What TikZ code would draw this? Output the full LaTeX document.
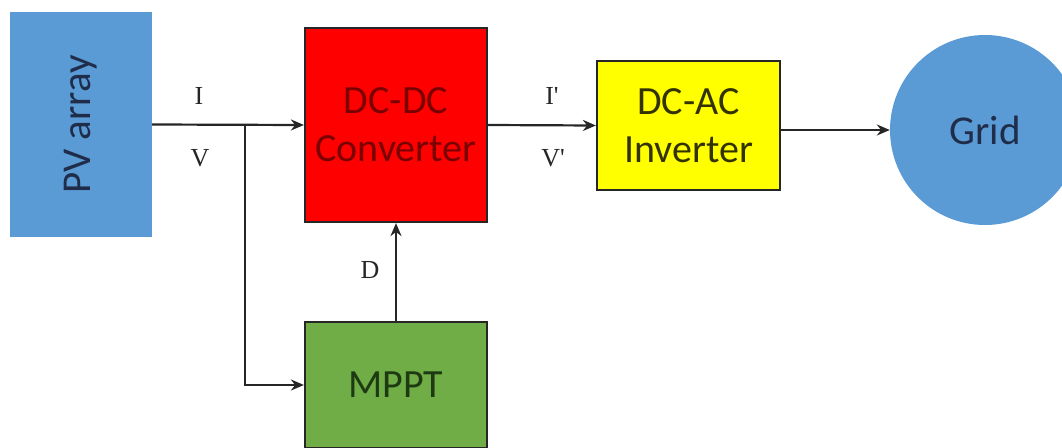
\documentclass[tikz,border=0pt]{standalone}
\usepackage{fontspec}
\setmainfont{Carlito}
\newfontfamily\lblfont{Liberation Serif}
\usetikzlibrary{arrows.meta}
\definecolor{pvblue}{HTML}{5B9BD5}
\definecolor{pvtext}{HTML}{1F2D4A}
\definecolor{dcred}{HTML}{FF0000}
\definecolor{dctext}{HTML}{7A0000}
\definecolor{invyellow}{HTML}{FFFF00}
\definecolor{invtext}{HTML}{333300}
\definecolor{mpgreen}{HTML}{70AD47}
\definecolor{mptext}{HTML}{1E3A12}
\tikzset{
  blk/.style={rectangle, inner sep=0pt, align=center, font=\fontsize{40}{48}\selectfont},
  bordered/.style={blk, draw=black!85, line width=2.2pt},
  conn/.style={line width=2.2pt, black!85, -{Stealth[length=13pt,width=11pt]}},
  lbl/.style={font=\lblfont\fontsize{26}{30}\selectfont, text=black!85}
}
\begin{document}
\begin{tikzpicture}[x=1pt,y=-1pt]
\useasboundingbox (0,0) rectangle (1062,447);
\clip (0,0) rectangle (1062,447);
\node[blk, fill=pvblue, minimum width=142pt, minimum height=225pt] (pv) at (81,124.5) {};
\node[text=pvtext, rotate=90, font=\fontsize{41}{48}\selectfont] (pvtxt) at (81,124.5) {PV array};
\node[bordered, fill=dcred, text=dctext, minimum width=182pt, minimum height=194pt] (dcdc) at (396,125) {DC-DC\\Converter};
\node[bordered, fill=invyellow, text=invtext, minimum width=183pt, minimum height=129pt] (dcac) at (688.5,125.5) {DC-AC\\Inverter};
\node[circle, fill=pvblue, inner sep=0pt, minimum size=190pt, text=pvtext, font=\fontsize{41}{48}\selectfont] (grid) at (985,130) {Grid};
\node[bordered, fill=mpgreen, text=mptext, minimum width=182pt, minimum height=126pt] (mppt) at (396,385) {MPPT};
\coordinate (junc) at (245,125);
\draw[conn] (pv.east) -- (dcdc.west);
\draw[conn] (junc) |- (mppt.west);
\draw[conn] (mppt.north) -- (dcdc.south);
\draw[conn] (dcdc.east) -- (dcac.west);
\draw[conn] (dcac.east |- grid.west) -- (grid.west);
\node[lbl] (lI) at (199,96) {I};
\node[lbl] (lV) at (200,158) {V};
\node[lbl] (lIp) at (552,96) {I'};
\node[lbl] (lVp) at (553,158) {V'};
\node[lbl] (lD) at (370,270) {D};
\end{tikzpicture}
\end{document}
